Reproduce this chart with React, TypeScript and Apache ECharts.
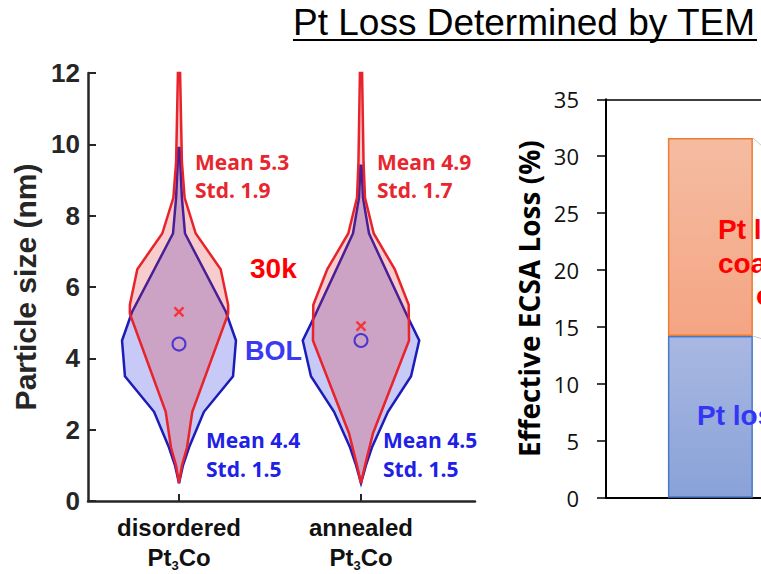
import React, { useEffect, useRef } from "react";
import * as echarts from "echarts";

// ---- Left panel: particle size violins ----
const categories = ["disordered", "annealed"];
const categoryPos = [1, 2];
const yTicksLeft = [0, 2, 4, 6, 8, 10, 12];

// profiles: particle size (nm) levels and half-widths (x-axis units)
const disorderedBolY = [0.5, 1.0, 1.5, 2.5, 3.5, 4.5, 5.3, 7.5, 8.5, 9.9];
const disorderedBolHalf = [0, 0.022, 0.055, 0.137, 0.297, 0.313, 0.258, 0.033, 0.016, 0.003];
const disordered30kY = [0.5, 1.0, 1.5, 2.5, 5.25, 5.5, 6.5, 7.5, 8.5, 9.5, 12];
const disordered30kHalf = [0, 0.0165, 0.044, 0.073, 0.27, 0.27, 0.229, 0.092, 0.031, 0.016, 0.006];
const annealedBolY = [0.5, 1.0, 1.5, 2.5, 3.5, 4.5, 5.2, 7.5, 8.5, 9.4];
const annealedBolHalf = [0, 0.027, 0.06, 0.148, 0.275, 0.32, 0.253, 0.044, 0.011, 0.003];
const annealed30kY = [0.5, 1.0, 1.9, 4.5, 5.5, 6.5, 7.5, 8.5, 9.5, 12];
const annealed30kHalf = [0, 0.022, 0.066, 0.264, 0.262, 0.185, 0.07, 0.022, 0.014, 0.006];

const bolMean = [4.4, 4.5];
const bolStd = [1.5, 1.5];
const agedMean = [5.3, 4.9];
const agedStd = [1.9, 1.7];

// ---- Right panel: effective ECSA loss ----
const ecsaCategories = ["Pt3Co"];
const ecsaYTicks = [0, 5, 10, 15, 20, 25, 30, 35];
const ptLossDissolution = [14.2];
const ptLossCoarsening = [17.4];
const connectorTop = [
  [7.035, 31.6],
  [9, 28.4],
];
const connectorMid = [
  [7.035, 14.2],
  [9, 13.1],
];

const RED = "#e8262d";
const BLUE = "#2020e6";
const RED_LINE = "#e8232b";
const BLUE_LINE = "#1c1cb8";
const RED_FILL = "rgba(220,40,40,0.24)";
const BLUE_FILL = "rgba(40,50,220,0.26)";

function violin(center: number, ys: number[], hws: number[], stroke: string, fill: string) {
  return {
    type: "custom",
    xAxisIndex: 0,
    yAxisIndex: 0,
    data: ys.map((y, i) => [center + hws[i], y]),
    renderItem: (params: any, api: any) => {
      if (params.dataIndex !== 0) return null;
      const right = ys.map((y, i) => api.coord([center + hws[i], y]));
      const left = ys.map((y, i) => api.coord([center - hws[i], y])).reverse();
      return {
        type: "polygon",
        shape: { points: right.concat(left) },
        style: { fill, stroke, lineWidth: 2.5, lineJoin: "miter" },
      };
    },
  };
}

function txt(text: string, x: number, y: number, fill: string, font: string) {
  return {
    type: "text",
    x,
    y,
    z: 100,
    style: { text, fill, font, textAlign: "left", textVerticalAlign: "middle" },
  };
}

export default function App() {
  const ref = useRef<HTMLDivElement>(null);
  useEffect(() => {
    if (!ref.current) return;
    const chart = echarts.init(ref.current, undefined, { renderer: "svg" });
    const leftFont = "Liberation Sans";
    const meanFont = 'bold 21px "Open Sans"';
    const hidden = {
      splitLine: { show: false },
      axisTick: { show: false },
      axisLabel: { show: false },
    };
    const option: any = {
      animation: false,
      backgroundColor: "#ffffff",
      grid: [
        { left: 88, top: 73, width: 387, height: 428, outerBoundsMode: "none", containLabel: false },
        { left: 606, top: 99.3, width: 208.8, height: 398.4, outerBoundsMode: "none", containLabel: false },
      ],
      xAxis: [
        {
          type: "value",
          gridIndex: 0,
          min: 0.5,
          max: 0.5 + 387 / 182,
          splitLine: { show: false },
          axisLine: { show: true, lineStyle: { color: "#262626", width: 2.5 } },
          axisTick: {
            show: true,
            inside: true,
            length: 7,
            customValues: categoryPos,
            lineStyle: { color: "#262626", width: 2 },
          },
          axisLabel: {
            show: true,
            customValues: categoryPos,
            margin: 11,
            formatter: (v: number) => {
              const i = categoryPos.indexOf(Math.round(v));
              return i < 0 ? "" : `{a|${categories[i]}}\n{a|Pt}{s|3}{a|Co}`;
            },
            rich: {
              a: { fontFamily: leftFont, fontWeight: "bold", fontSize: 24, lineHeight: 30, color: "#111" },
              s: {
                fontFamily: leftFont,
                fontWeight: "bold",
                fontSize: 13,
                lineHeight: 14,
                verticalAlign: "bottom",
                color: "#111",
              },
            },
          },
        },
        {
          type: "category",
          gridIndex: 1,
          data: ecsaCategories,
          boundaryGap: true,
          axisLine: { show: true, onZero: false, lineStyle: { color: "#000", width: 2 } },
          ...hidden,
        },
        {
          type: "value",
          gridIndex: 1,
          position: "top",
          min: 0,
          max: 10,
          axisLine: { show: true, onZero: false, lineStyle: { color: "#000", width: 1.5 } },
          ...hidden,
        },
      ],
      yAxis: [
        {
          type: "value",
          gridIndex: 0,
          min: 0,
          max: 12,
          interval: 2,
          name: "Particle size (nm)",
          nameLocation: "middle",
          nameGap: 47,
          nameTextStyle: { fontFamily: leftFont, fontWeight: "bold", fontSize: 30, color: "#262626" },
          splitLine: { show: false },
          axisLine: { show: true, onZero: false, lineStyle: { color: "#262626", width: 2.5 } },
          axisTick: { show: true, inside: true, length: 8, lineStyle: { color: "#262626", width: 2 } },
          axisLabel: {
            margin: 8,
            fontFamily: leftFont,
            fontWeight: "bold",
            fontSize: 26,
            color: "#262626",
            formatter: (v: number) => (yTicksLeft.includes(v) ? String(v) : ""),
          },
        },
        {
          type: "value",
          gridIndex: 1,
          min: 0,
          max: 35,
          interval: 5,
          name: "Effective ECSA Loss (%)",
          nameLocation: "middle",
          nameGap: 63,
          nameTextStyle: { fontFamily: "Open Sans", fontWeight: "bold", fontSize: 28, color: "#000" },
          splitLine: { show: false },
          axisLine: { show: true, onZero: false, lineStyle: { color: "#000", width: 2 } },
          axisTick: { show: true, inside: false, length: 9, lineStyle: { color: "#000", width: 1.5 } },
          axisLabel: {
            margin: 27,
            fontFamily: "Open Sans",
            fontSize: 22,
            color: "#111",
            formatter: (v: number) => (ecsaYTicks.includes(v) ? String(v) : ""),
          },
        },
      ],
      series: [
        violin(categoryPos[0], disorderedBolY, disorderedBolHalf, BLUE_LINE, BLUE_FILL),
        violin(categoryPos[0], disordered30kY, disordered30kHalf, RED_LINE, RED_FILL),
        violin(categoryPos[1], annealedBolY, annealedBolHalf, BLUE_LINE, BLUE_FILL),
        violin(categoryPos[1], annealed30kY, annealed30kHalf, RED_LINE, RED_FILL),
        {
          type: "scatter",
          xAxisIndex: 0,
          yAxisIndex: 0,
          symbol: "path://M0,0L10,10M10,0L0,10",
          symbolSize: 9,
          itemStyle: { color: "none", borderColor: "#ff1a1a", borderWidth: 2.5 },
          data: categoryPos.map((x, i) => [x, agedMean[i]]),
          z: 10,
        },
        {
          type: "scatter",
          xAxisIndex: 0,
          yAxisIndex: 0,
          symbol: "circle",
          symbolSize: 13,
          itemStyle: { color: "none", borderColor: "#2a1ad0", borderWidth: 2 },
          data: categoryPos.map((x, i) => [x, bolMean[i]]),
          z: 10,
        },
        {
          type: "bar",
          xAxisIndex: 1,
          yAxisIndex: 1,
          stack: "ecsa",
          barWidth: 85,
          data: ptLossDissolution,
          itemStyle: {
            color: new echarts.graphic.LinearGradient(0, 0, 0, 1, [
              { offset: 0, color: "#a9b8e2" },
              { offset: 1, color: "#89a2d8" },
            ]),
            borderColor: "#4a78c8",
            borderWidth: 1.5,
          },
        },
        {
          type: "bar",
          xAxisIndex: 1,
          yAxisIndex: 1,
          stack: "ecsa",
          barWidth: 85,
          data: ptLossCoarsening,
          itemStyle: {
            color: new echarts.graphic.LinearGradient(0, 0, 0, 1, [
              { offset: 0, color: "#f5bca2" },
              { offset: 1, color: "#f4a583" },
            ]),
            borderColor: "#ed7d31",
            borderWidth: 1.5,
          },
        },
        {
          type: "line",
          xAxisIndex: 2,
          yAxisIndex: 1,
          symbol: "none",
          lineStyle: { color: "#c8c8c8", width: 1 },
          data: connectorTop,
        },
        {
          type: "line",
          xAxisIndex: 2,
          yAxisIndex: 1,
          symbol: "none",
          lineStyle: { color: "#c8c8c8", width: 1 },
          data: connectorMid,
        },
      ],
      graphic: [
        txt("Pt Loss Determined by TEM", 293, 22.2, "#000", `37px "${leftFont}"`),
        {
          type: "line",
          shape: { x1: 293, y1: 40, x2: 757, y2: 40 },
          style: { stroke: "#000", lineWidth: 2 },
        },
        txt(`Mean ${agedMean[0].toFixed(1)}`, 195, 162, RED, meanFont),
        txt(`Std. ${agedStd[0].toFixed(1)}`, 195, 190, RED, meanFont),
        txt(`Mean ${agedMean[1].toFixed(1)}`, 377, 162, RED, meanFont),
        txt(`Std. ${agedStd[1].toFixed(1)}`, 377, 190, RED, meanFont),
        txt(`Mean ${bolMean[0].toFixed(1)}`, 206, 440, BLUE, meanFont),
        txt(`Std. ${bolStd[0].toFixed(1)}`, 206, 469, BLUE, meanFont),
        txt(`Mean ${bolMean[1].toFixed(1)}`, 383, 440, BLUE, meanFont),
        txt(`Std. ${bolStd[1].toFixed(1)}`, 383, 469, BLUE, meanFont),
        txt("30k", 250, 268.3, "#ff0000", `bold 28px "${leftFont}"`),
        txt("BOL", 245, 350.6, "#3a3af2", `bold 27px "${leftFont}"`),
        txt("Pt l", 718, 229.5, "#ff0000", `bold 28px "${leftFont}"`),
        txt("coa", 718, 263.3, "#ff0000", `bold 28px "${leftFont}"`),
        txt("c", 756, 295.5, "#ff0000", `bold 28px "${leftFont}"`),
        txt("Pt los", 697, 415.3, "#3535f5", `bold 28px "${leftFont}"`),
      ],
    };
    chart.setOption(option);
    return () => chart.dispose();
  }, []);
  return (
    <div
      ref={ref}
      style={{ position: "fixed", left: 0, top: 0, width: 761, height: 574, background: "#fff" }}
    />
  );
}
